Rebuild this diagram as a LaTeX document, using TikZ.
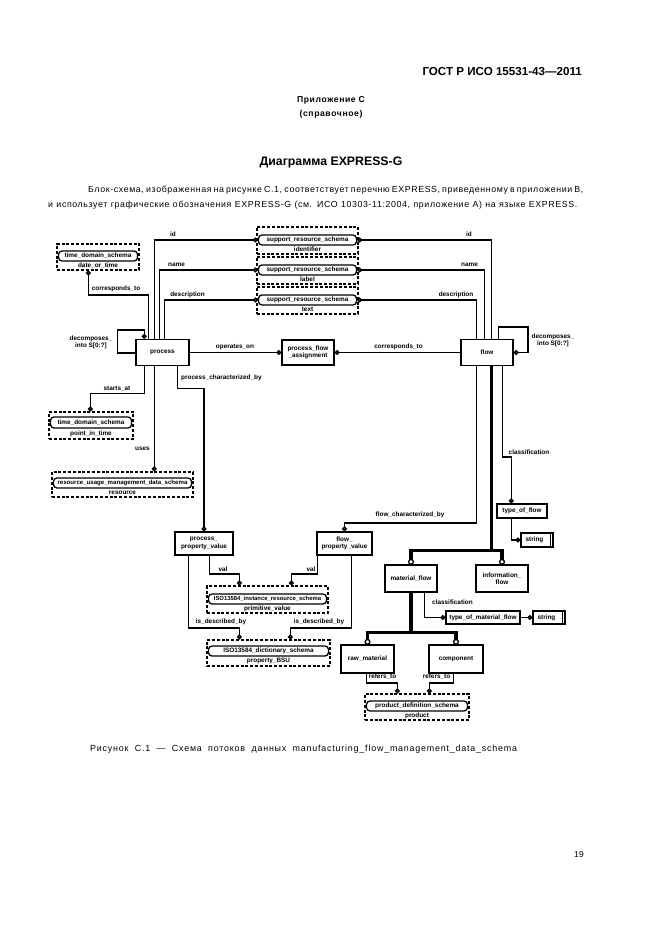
\documentclass[tikz,border=0pt]{standalone}
\usepackage{fontspec}
\setmainfont{Liberation Sans}
\newfontfamily\spfont{Liberation Sans}[LetterSpace=7]
\newfontfamily\capfont{Liberation Sans}[LetterSpace=9]
\usetikzlibrary{arrows.meta,calc}

\tikzset{
  dg/.style={font=\bfseries\fontsize{6.4}{7.4}\selectfont},
  ent/.style={draw, line width=1.5pt, dg, inner sep=0pt, align=center},
  rbox/.style={draw, line width=1.3pt, rounded corners=3.5pt, dg, inner sep=0pt},
  obox/.style={draw, line width=1.3pt, dash pattern=on 3pt off 1.8pt, inner sep=0pt},
  lbl/.style={dg, inner sep=0pt, align=center},
  refc/.style={line width=1.5pt, -{Circle[open,length=4.8pt,width=4.8pt]}},
  thk/.style={line width=3.2pt},
  circ/.style={circle, draw, fill=white, line width=1.3pt, minimum size=4.8pt, inner sep=0pt},
  pagetxt/.style={inner sep=0pt}
}

\newcommand\extbox[9]{%
  \node[obox, minimum width={#3-#2}, minimum height={#5-#4}] (#1-o) at ({(#2+#3)/2},{(#4+#5)/2}) {};
  \node[rbox, minimum width={#3-#2-3}, minimum height={#7-#6}] (#1) at ({(#2+#3)/2},{(#6+#7)/2}) {#8};
  \node[lbl] (#1-l) at ({(#2+#3)/2},{(#7+#5)/2}) {#9};
}

\begin{document}
\begin{tikzpicture}[x=1pt,y=-1pt]
\useasboundingbox[fill=white] (0,0) rectangle (661,936);

% ---------- page text ----------
\node[pagetxt, anchor=east, font=\bfseries\fontsize{11.6}{13}\selectfont] (hdr) at (582,72) {ГОСТ Р ИСО 15531-43—2011};
\node[pagetxt, font=\bfseries\spfont\fontsize{8.6}{10}\selectfont] (app) at (331,100) {Приложение С};
\node[pagetxt, font=\bfseries\spfont\fontsize{8.6}{10}\selectfont] (appb) at (331,114) {(справочное)};
\node[pagetxt, font=\bfseries\fontsize{12.3}{14}\selectfont] (ttl) at (331,162) {Диаграмма EXPRESS-G};
\node[pagetxt, anchor=west, font=\spfont\fontsize{8.8}{10}\selectfont] (par1) at (88,190)
  {\makebox[492pt][s]{Блок-схема, изображенная на рисунке С.1, соответствует перечню EXPRESS, приведенному в приложении В,}};
\node[pagetxt, anchor=west, font=\spfont\fontsize{8.8}{10}\selectfont] (par2) at (48,205)
  {\makebox[529pt][s]{и использует графические обозначения EXPRESS-G (см. ИСО 10303-11:2004, приложение А) на языке EXPRESS.}};
\node[pagetxt, anchor=west, font=\capfont\fontsize{8.9}{10}\selectfont] (cap) at (90,749)
  {\makebox[427pt][s]{Рисунок С.1 — Схема потоков данных manufacturing\_flow\_management\_data\_schema}};
\node[pagetxt, font=\fontsize{8.6}{10}\selectfont] (pg) at (579,855) {19};

% ---------- entities ----------
\node[ent, minimum width=53, minimum height=26] (process) at (162.5,352.5) {process};
\node[ent, minimum width=52, minimum height=25] (pfa) at (308,352.5) {process\_flow\\\_assignment};
\node[ent, minimum width=52, minimum height=26] (flow) at (487,352.5) {flow};
\node[ent, minimum width=58, minimum height=23] (ppv) at (204,543.5) {process\_\\property\_value};
\node[ent, minimum width=55, minimum height=23] (fpv) at (344.5,543.5) {flow\_\\property\_value};
\node[ent, minimum width=50, minimum height=14] (tof) at (522,511) {type\_of\_flow};
\node[ent, minimum width=32, minimum height=14] (str1) at (537,540) {string\hspace{5pt}};
\draw[line width=1.3pt] ($(str1.north east)+(-3.2,0)$) -- ($(str1.south east)+(-3.2,0)$);
\node[ent, minimum width=52, minimum height=27] (mf) at (411,578.5) {material\_flow};
\node[ent, minimum width=52, minimum height=27] (inf) at (502,578.5) {information\_\\flow};
\node[ent, minimum width=74, minimum height=13] (tomf) at (483,617.5) {type\_of\_material\_flow};
\node[ent, minimum width=32, minimum height=13] (str2) at (549,617.5) {string\hspace{5pt}};
\draw[line width=1.3pt] ($(str2.north east)+(-3.2,0)$) -- ($(str2.south east)+(-3.2,0)$);
\node[ent, minimum width=53, minimum height=28] (raw) at (367.5,659) {raw\_material};
\node[ent, minimum width=54, minimum height=28] (comp) at (456,659) {component};

% ---------- external (schema) references ----------
\extbox{sid}{257}{358}{227}{254}{235}{245}{support\_resource\_schema}{identifier}
\extbox{slab}{257}{358}{257}{284}{265}{275}{support\_resource\_schema}{label}
\extbox{stxt}{257}{358}{287}{314}{295}{305}{support\_resource\_schema}{text}
\extbox{tdsA}{57}{139}{244}{270}{251}{261}{time\_domain\_schema}{date\_or\_time}
\extbox{tdsB}{49}{133}{412}{439}{417}{428}{time\_domain\_schema}{point\_in\_time}
\extbox{res}{52}{193}{472}{497}{478}{488}{\fontsize{6.1}{7}\selectfont resource\_usage\_management\_data\_schema}{resource}
\extbox{isoA}{207}{328}{586}{613}{594}{604}{\fontsize{5.9}{7}\selectfont ISO13584\_instance\_resource\_schema}{primitive\_value}
\extbox{isoB}{207}{330}{640}{666}{646}{656}{ISO13584\_dictionary\_schema}{property\_BSU}
\extbox{pds}{365}{469}{694}{720}{701}{711}{product\_definition\_schema}{product}

% ---------- process, upper connectors ----------
\draw[refc] ($(process.north west)+(0,14)$) -- ++(-18,0) |- ($(process.north west)+(9,-9)$) -- ($(process.north west)+(9,0)$);
\node[lbl] (l-dec1) at (91,342.5) {decomposes\_\\into S[0:?]};
\draw[refc] ($(process.north west)+(13,0)$) -- ++(0,-44) -| ($(tdsA-o.south west)+(32,0)$);
\node[lbl] (l-cor1) at (116,289) {corresponds\_to};
\draw[refc] ($(process.north west)+(19,0)$) |- (sid.west);
\node[lbl] (l-id1) at (173,234) {id};
\draw[refc] ($(process.north west)+(24,0)$) |- (slab.west);
\node[lbl] (l-nm1) at (176.5,265) {name};
\draw[refc] ($(process.north west)+(29,0)$) |- (stxt.west);
\node[lbl] (l-ds1) at (187.5,295) {description};

% ---------- flow, upper connectors ----------
\draw[refc] ($(flow.north west)+(31,0)$) |- (sid.east);
\node[lbl] (l-id2) at (469,234) {id};
\draw[refc] ($(flow.north west)+(24,0)$) |- (slab.east);
\node[lbl] (l-nm2) at (469.5,265) {name};
\draw[refc] ($(flow.north west)+(16,0)$) |- (stxt.east);
\node[lbl] (l-ds2) at (456,295) {description};
\draw[refc] ($(flow.north west)+(38,0)$) -- ++(0,-12) -| ($(flow.east)+(14,0)$) -- (flow.east);
\node[lbl] (l-dec2) at (553,340.5) {decomposes\_\\into S[0:?]};

% ---------- middle row ----------
\draw[refc] (process.east) -- (pfa.west);
\node[lbl] (l-op) at (235,347) {operates\_on};
\draw[refc] (flow.west) -- (pfa.east);
\node[lbl] (l-cor2) at (398.5,347) {corresponds\_to};

% ---------- process, lower connectors ----------
\draw[refc] ($(process.south west)+(9,0)$) -- ++(0,27) -| ($(tdsB-o.north west)+(42,0)$);
\node[lbl] (l-st) at (117,389) {starts\_at};
\coordinate (pu) at ($(process.south west)+(19,0)$);
\draw[refc] (pu) -- (pu |- res-o.north);
\node[lbl] (l-us) at (142.5,449) {uses};
\draw[refc] ($(process.south west)+(42,0)$) -- ++(0,22) -| (ppv.north);
\node[lbl, anchor=west] (l-pcb) at (181,378) {process\_characterized\_by};

% ---------- flow, lower connectors ----------
\draw[refc] ($(flow.south west)+(16,0)$) -- ++(0,156.5) -| (fpv.north);
\node[lbl] (l-fcb) at (410,515) {flow\_characterized\_by};
\draw[refc] ($(flow.south west)+(42,0)$) -- ++(0,90.5) -| ($(tof.north west)+(15,0)$);
\node[lbl] (l-cl1) at (529,452) {classification};
\draw[refc] ($(tof.south west)+(15,0)$) |- (str1.west);

% supertype tree of flow
\coordinate (fj) at ($(flow.south west)+(31,184.5)$);
\draw[thk] ($(flow.south west)+(31,0)$) -- (fj);
\draw[thk, line cap=rect] (fj -| mf.north) -- (fj -| inf.north);
\draw[thk] (fj -| mf.north) -- (mf.north);
\draw[thk] (fj -| inf.north) -- (inf.north);
\node[circ] (c-mf) at ($(mf.north)+(0,-2.4)$) {};
\node[circ] (c-inf) at ($(inf.north)+(0,-2.4)$) {};

% ---------- property values ----------
\draw[refc] ($(ppv.south west)+(35,0)$) -- ++(0,18) -| ($(isoA-o.north west)+(33,0)$);
\node[lbl] (l-v1) at (223,569) {val};
\draw[refc] ($(fpv.south west)+(1,0)$) -- ++(0,18) -| ($(isoA-o.north west)+(85,0)$);
\node[lbl] (l-v2) at (311,569) {val};
\draw[refc] ($(ppv.south west)+(14,0)$) -- ++(0,72) -| ($(isoB-o.north west)+(33,0)$);
\node[lbl] (l-ib1) at (221,622) {is\_described\_by};
\draw[refc] ($(fpv.south west)+(35,0)$) -- ++(0,72) -| ($(isoB-o.north west)+(84,0)$);
\node[lbl] (l-ib2) at (319,622) {is\_described\_by};

% ---------- material flow ----------
\draw[refc] ($(mf.south west)+(40,0)$) |- (tomf.west);
\node[lbl] (l-cl2) at (452.5,602) {classification};
\draw[refc] (tomf.east) -- (str2.west);

\coordinate (mj) at ($(mf.south)+(0,40)$);
\draw[thk] (mf.south) -- (mj);
\draw[thk, line cap=rect] (mj -| raw.north) -- (mj -| comp.north);
\draw[thk] (mj -| raw.north) -- (raw.north);
\draw[thk] (mj -| comp.north) -- (comp.north);
\node[circ] (c-raw) at ($(raw.north)+(0,-2.4)$) {};
\node[circ] (c-comp) at ($(comp.north)+(0,-2.4)$) {};

\draw[refc] ($(raw.south west)+(26,0)$) -- ++(0,9) -| ($(pds-o.north west)+(33,0)$);
\node[lbl] (l-rf1) at (382.5,677) {refers\_to};
\draw[refc] ($(comp.south west)+(25,0)$) -- ++(0,9) -| ($(pds-o.north west)+(65,0)$);
\node[lbl] (l-rf2) at (436.5,677) {refers\_to};

\end{tikzpicture}
\end{document}
